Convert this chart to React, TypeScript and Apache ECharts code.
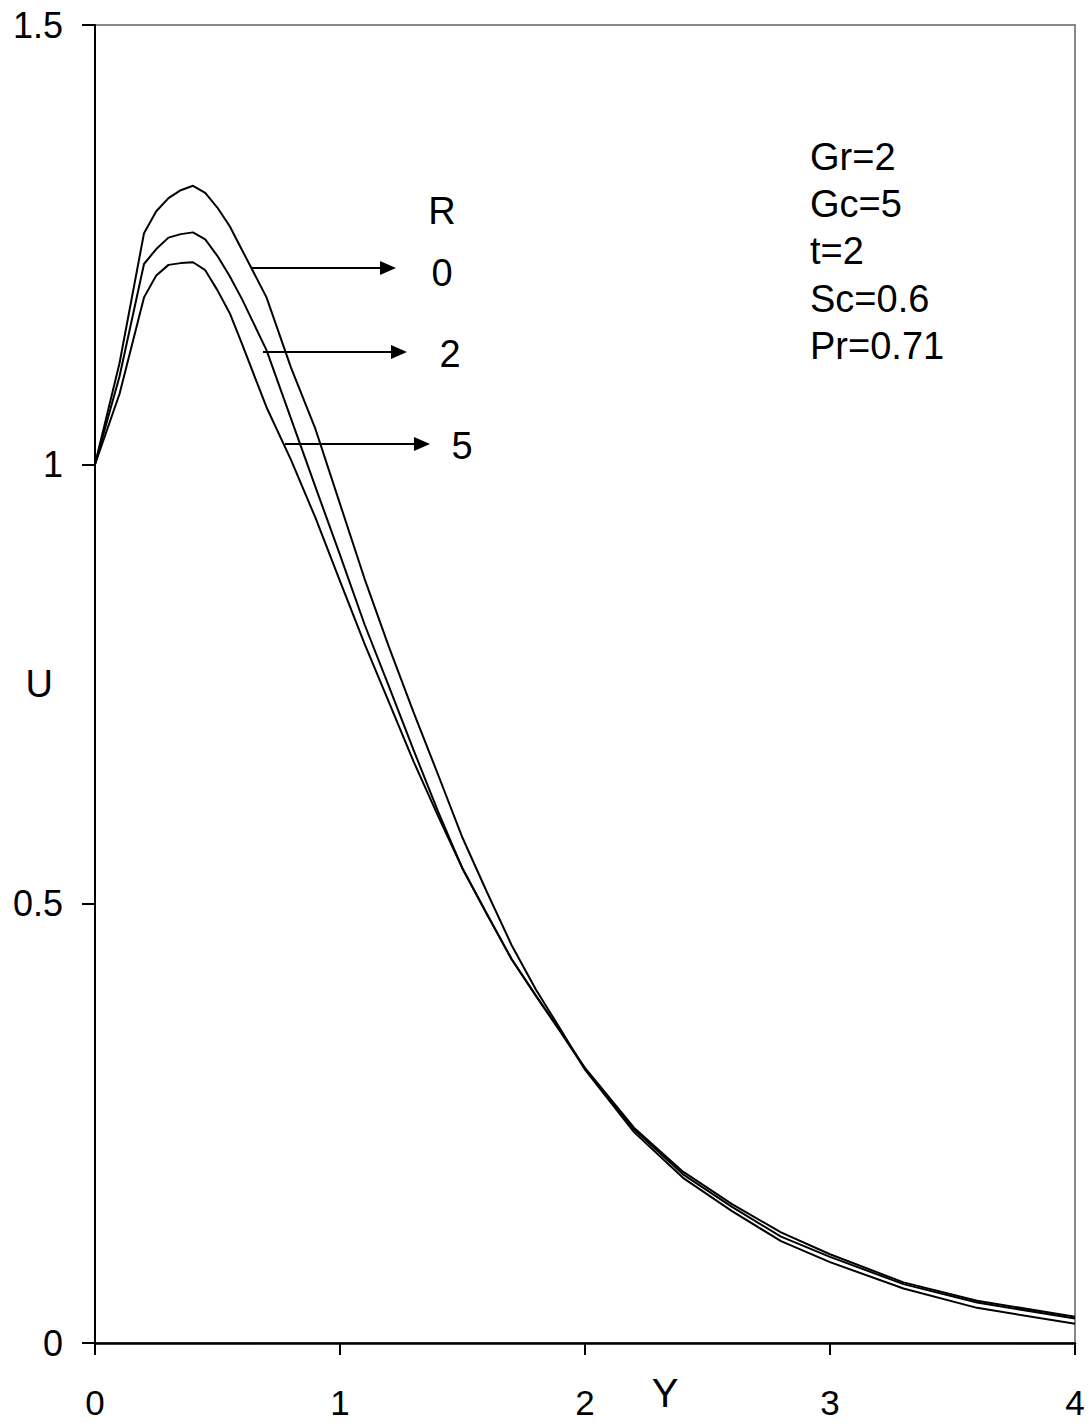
import React, { useEffect, useRef } from "react";
import * as echarts from "echarts";

// Y positions (shared by all three curves)
const Y_VALUES = [0, 0.1, 0.2, 0.25, 0.3, 0.35, 0.4, 0.45, 0.5, 0.55, 0.6, 0.7, 0.8, 0.9, 1.0, 1.1, 1.2, 1.3, 1.4, 1.5, 1.6, 1.7, 1.8, 1.9, 2.0, 2.2, 2.4, 2.6, 2.8, 3.0, 3.3, 3.6, 4.0];

// U values
const U_R0 = [1.0, 1.115, 1.263, 1.288, 1.303, 1.312, 1.317, 1.309, 1.292, 1.271, 1.244, 1.19, 1.11, 1.04, 0.955, 0.87, 0.792, 0.718, 0.647, 0.575, 0.513, 0.453, 0.402, 0.357, 0.311, 0.24, 0.188, 0.15, 0.116, 0.092, 0.062, 0.04, 0.022];
const U_R2 = [1.0, 1.1, 1.228, 1.245, 1.258, 1.262, 1.264, 1.256, 1.237, 1.214, 1.188, 1.13, 1.052, 0.974, 0.897, 0.818, 0.747, 0.675, 0.605, 0.54, 0.488, 0.437, 0.395, 0.354, 0.312, 0.243, 0.192, 0.155, 0.121, 0.098, 0.067, 0.046, 0.028];
const U_R5 = [1.0, 1.08, 1.19, 1.215, 1.227, 1.229, 1.23, 1.221, 1.198, 1.172, 1.137, 1.065, 1.005, 0.939, 0.867, 0.796, 0.729, 0.662, 0.6, 0.54, 0.488, 0.437, 0.395, 0.355, 0.313, 0.245, 0.195, 0.158, 0.126, 0.101, 0.069, 0.048, 0.03];

const R_LABELS = ["0", "2", "5"];
const PARAM_LINES = ["Gr=2", "Gc=5", "t=2", "Sc=0.6", "Pr=0.71"];

const FONT = "'Liberation Sans', Arial, sans-serif";

function arrow(x1: number, x2: number, y: number) {
  return [
    { type: "line", shape: { x1, y1: y, x2: x2 - 14, y2: y }, style: { stroke: "#000", lineWidth: 2 } },
    {
      type: "polygon",
      shape: { points: [[x2 - 16, y - 7], [x2, y], [x2 - 16, y + 7]] },
      style: { fill: "#000" },
    },
  ];
}

export default function App() {
  const ref = useRef<HTMLDivElement>(null);
  useEffect(() => {
    if (!ref.current) return;
    const chart = echarts.init(ref.current, undefined, { renderer: "svg" });
    const mk = (u: number[]) => Y_VALUES.map((y, i) => [y, u[i]]);
    const lineStyle = { color: "#000", width: 2 };
    const txt = (text: string, x: number, y: number, align = "center") => ({
      type: "text",
      x,
      y,
      style: { text, font: `38px ${FONT}`, fill: "#000", align, verticalAlign: "middle" },
    });
    const graphics: any[] = [
      txt("R", 442, 211),
      txt(R_LABELS[0], 442, 273),
      txt(R_LABELS[1], 450, 354),
      txt(R_LABELS[2], 462, 446),
      ...arrow(251, 396, 268),
      ...arrow(263, 407, 352),
      ...arrow(285, 430, 444),
      ...PARAM_LINES.map((t, i) => txt(t, 810, 157 + i * 47.2, "left")),
    ];
    chart.setOption({
      animation: false,
      backgroundColor: "#fff",
      grid: {
        left: 95,
        right: 16,
        top: 25,
        bottom: 80,
        containLabel: false,
        outerBoundsMode: "none",
        show: true,
        borderColor: "#888",
        borderWidth: 2,
        backgroundColor: "transparent",
      },
      xAxis: {
        type: "value",
        min: 0,
        max: 4,
        interval: 1,
        name: "Y",
        nameLocation: "middle",
        nameGap: 30,
        nameMoveOverlap: false,
        nameTextStyle: { fontFamily: FONT, fontSize: 40, color: "#000", padding: [0, 0, 0, 160] },
        axisLine: { show: true, lineStyle: { color: "#000", width: 2.5 } },
        axisTick: { show: true, inside: false, length: 12, lineStyle: { color: "#000", width: 2 } },
        axisLabel: { fontFamily: FONT, fontSize: 35, color: "#000", margin: 42 },
        splitLine: { show: false },
      },
      yAxis: {
        type: "value",
        min: 0,
        max: 1.5,
        interval: 0.5,
        name: "U",
        nameLocation: "middle",
        nameRotate: 0,
        nameGap: 42,
        nameMoveOverlap: false,
        nameTextStyle: { fontFamily: FONT, fontSize: 38, color: "#000", padding: [32, 0, 0, 0] },
        axisLine: { show: true, lineStyle: { color: "#000", width: 2 } },
        axisTick: { show: true, inside: false, length: 13, lineStyle: { color: "#000", width: 2 } },
        axisLabel: { fontFamily: FONT, fontSize: 36, color: "#000", margin: 32 },
        splitLine: { show: false },
      },
      series: [
        { name: "R=0", type: "line", data: mk(U_R0), showSymbol: false, lineStyle, smooth: false },
        { name: "R=2", type: "line", data: mk(U_R2), showSymbol: false, lineStyle, smooth: false },
        { name: "R=5", type: "line", data: mk(U_R5), showSymbol: false, lineStyle, smooth: false },
      ],
      graphic: graphics,
    });
    return () => chart.dispose();
  }, []);
  return <div ref={ref} style={{ position: "fixed", left: 0, top: 0, width: 1091, height: 1423, background: "#fff" }} />;
}
